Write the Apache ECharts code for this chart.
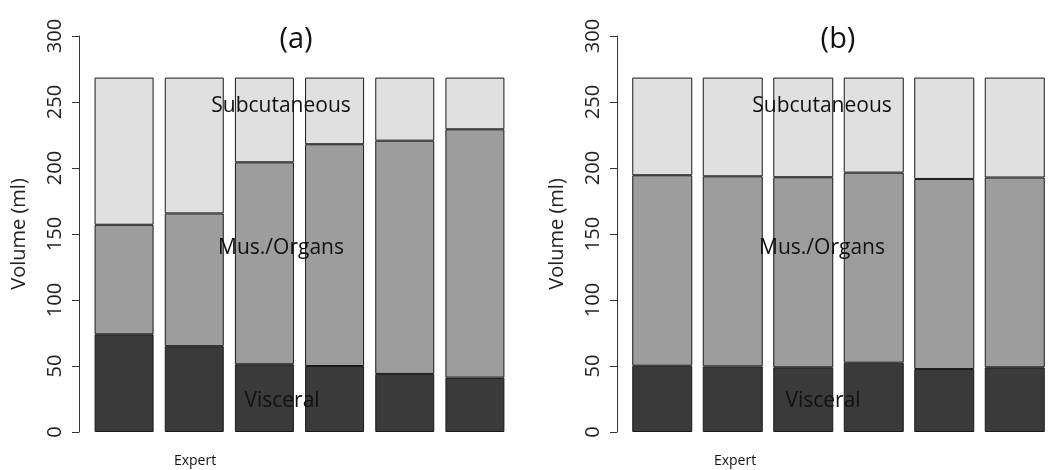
<!DOCTYPE html>
<html><head><meta charset="utf-8">
<script src="https://cdn.jsdelivr.net/npm/echarts@6/dist/echarts.min.js"></script>
<style>html,body{margin:0;padding:0;background:#fff}#c{width:1050px;height:470px}</style>
</head><body><div id="c"></div>
<script>
const categories = ['1','2','3','4','5','6'];
const totalA = 268.5;
const visceralA = [74, 65, 51.3, 50, 44, 41.2];
const mtopA     = [157, 165.6, 204.3, 218, 220.7, 229.3];
const totalB = 268.5;
const visceralB = [50.2, 49.7, 49, 52.5, 47.7, 49];
const mtopB     = [194.5, 193.7, 193, 196.5, 191.7, 192.8];
const yTicks = [0, 50, 100, 150, 200, 250, 300];

const musA = mtopA.map((t,i)=>+(t-visceralA[i]).toFixed(2));
const subA = mtopA.map(t=>+(totalA-t).toFixed(2));
const musB = mtopB.map((t,i)=>+(t-visceralB[i]).toFixed(2));
const subB = mtopB.map(t=>+(totalB-t).toFixed(2));

const FONT = 'Open Sans';
const colors = ['#3a3a3a','#9d9d9d','#e0e0e0'];

function yAxis(gi){
  return {type:'value', gridIndex:gi, min:yTicks[0], max:yTicks[yTicks.length-1], interval:50, offset:10,
    name:'Volume (ml)', nameLocation:'middle', nameGap:50, nameRotate:90,
    nameTextStyle:{fontFamily:FONT, fontSize:20, color:'#222'},
    axisLine:{show:true, lineStyle:{color:'#333', width:1}},
    axisTick:{show:true, length:7, lineStyle:{color:'#333'}},
    axisLabel:{rotate:90, margin:14, fontFamily:FONT, fontSize:20, color:'#222'},
    splitLine:{show:false}};
}
function xAxis(gi){
  return {type:'category', gridIndex:gi, data:categories, axisLine:{show:false}, axisTick:{show:false}, axisLabel:{show:false}};
}
function bars(gi, arrs, w){
  const stack='s'+gi;
  return arrs.map((d,k)=>({type:'bar', xAxisIndex:gi, yAxisIndex:gi, stack, data:d, barWidth:w,
    itemStyle:{color:colors[k], borderColor:'#1a1a1a', borderWidth:1}, silent:true}));
}
function txt(x,y,s,size){
  return {type:'text', x, y, style:{text:s, fontFamily:FONT, fontSize:size, fill:'#111', textAlign:'center', textVerticalAlign:'middle'}, z:100};
}
const chart = echarts.init(document.getElementById('c'));
chart.setOption({
  animation:false,
  grid:[{left:89, width:421, top:36, height:396},{left:627, width:428, top:36, height:396}],
  xAxis:[xAxis(0), xAxis(1)],
  yAxis:[yAxis(0), yAxis(1)],
  series:[...bars(0,[visceralA,musA,subA],59), ...bars(1,[visceralB,musB,subB],60)],
  graphic:[
    txt(296,40,'(a)',29), txt(838,40,'(b)',29),
    txt(281,106,'Subcutaneous',21), txt(281,248,'Mus./Organs',21), txt(282,401,'Visceral',21),
    txt(822,106,'Subcutaneous',21), txt(822,248,'Mus./Organs',21), txt(823,401,'Visceral',21),
    txt(195,461,'Expert',14), txt(735,461,'Expert',14)
  ]
});
</script></body></html>
